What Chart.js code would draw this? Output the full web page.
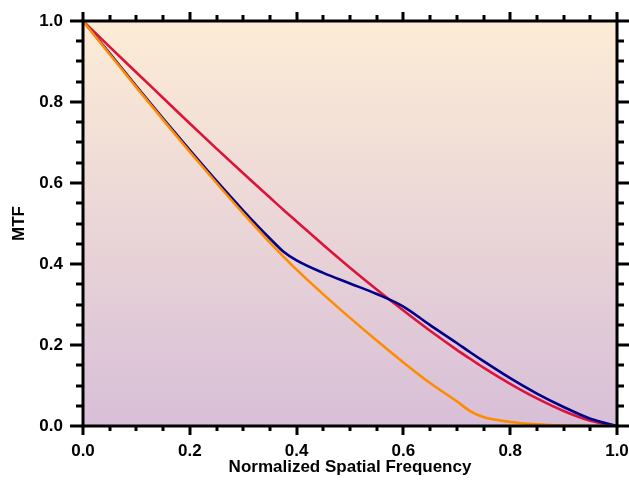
<!DOCTYPE html>
<html>
<head>
<meta charset="utf-8">
<script src="https://cdn.jsdelivr.net/npm/chart.js@4"></script>
<style>
  html, body { margin: 0; padding: 0; background: #ffffff; }
  #wrap { width: 629px; height: 482px; }
</style>
</head>
<body>
<div id="wrap"><canvas id="mtfChart" width="629" height="482"></canvas></div>
<script>
// normalized spatial frequency samples
const freq = [0, 0.05, 0.1, 0.15, 0.2, 0.25, 0.3, 0.35, 0.375, 0.4, 0.45, 0.5, 0.55, 0.6, 0.65, 0.7, 0.725, 0.75, 0.8, 0.85, 0.9, 0.95, 1.0];

// red: diffraction-limited
const mtfRed = [1.0, 0.936, 0.873, 0.810, 0.747, 0.685, 0.624, 0.564, 0.534, 0.505, 0.447, 0.391, 0.337, 0.285, 0.235, 0.188, 0.166, 0.144, 0.104, 0.068, 0.037, 0.013, 0.0];
// blue
const mtfBlue = [1.0, 0.920, 0.839, 0.759, 0.681, 0.605, 0.532, 0.463, 0.431, 0.409, 0.378, 0.352, 0.326, 0.295, 0.249, 0.205, 0.182, 0.160, 0.118, 0.080, 0.047, 0.018, 0.0];
// orange
const mtfOrange = [1.0, 0.918, 0.836, 0.756, 0.677, 0.600, 0.525, 0.453, 0.419, 0.386, 0.325, 0.267, 0.211, 0.157, 0.106, 0.061, 0.037, 0.022, 0.010, 0.004, 0.001, 0.0, 0.0];

const majorTicks = [0, 0.2, 0.4, 0.6, 0.8, 1.0];
const tickStep = 0.05;

const toPoints = (ys) => freq.map((x, i) => ({ x: x, y: ys[i] }));

const bgPlugin = {
    id: "bgGradient",
    beforeDraw(chart) {
        const { ctx, chartArea: a } = chart;
        const g = ctx.createLinearGradient(0, a.top, 0, a.bottom);
        g.addColorStop(0, "#fdecd6");
        g.addColorStop(1, "#d8bfd8");
        ctx.save();
        ctx.fillStyle = g;
        ctx.fillRect(a.left, a.top, a.right - a.left, a.bottom - a.top);
        ctx.restore();
    },
};

const frameplugin = {
    id: "frameTicks",
    afterDraw(chart) {
        const { ctx, chartArea: a } = chart;
        const xs = chart.scales.x;
        const ys = chart.scales.y;
        ctx.save();
        ctx.strokeStyle = "#000";
        ctx.lineWidth = 3;
        ctx.lineCap = "butt";
        ctx.strokeRect(a.left, a.top, a.right - a.left, a.bottom - a.top);
        for (let k = 0; k <= 20; k++) {
            const v = k * tickStep;
            const major = k % 4 === 0;
            const px = Math.round(xs.getPixelForValue(v));
            const py = Math.round(ys.getPixelForValue(v));
            ctx.beginPath();
            // bottom
            ctx.moveTo(px, a.bottom);
            ctx.lineTo(px, a.bottom + (major ? 9 : 5));
            // top
            ctx.moveTo(px, a.top);
            ctx.lineTo(px, a.top - (major ? 9 : 6));
            // left
            ctx.moveTo(a.left, py);
            ctx.lineTo(a.left - (major ? 13 : 7), py);
            // right
            ctx.moveTo(a.right, py);
            ctx.lineTo(a.right + (major ? 12 : 7), py);
            ctx.stroke();
        }
        ctx.restore();
    },
};

const fontBold = { family: "'Liberation Sans', Arial, Helvetica, sans-serif", size: 17, weight: "bold" };

function isMajor(v) {
    return majorTicks.some(m => Math.abs(m - v) < 1e-6);
}

new Chart(document.getElementById("mtfChart"), {
    type: "line",
    data: {
        datasets: [
            {
                label: "Diffraction limit",
                data: toPoints(mtfRed),
                borderColor: "#dc143c",
                borderWidth: 2.6,
                pointRadius: 0,
                cubicInterpolationMode: "monotone",
                order: 2,
            },
            {
                label: "Measured",
                data: toPoints(mtfBlue),
                borderColor: "#00008b",
                borderWidth: 2.6,
                pointRadius: 0,
                cubicInterpolationMode: "monotone",
                order: 1,
            },
            {
                label: "Model",
                data: toPoints(mtfOrange),
                borderColor: "#ff8c00",
                borderWidth: 2.6,
                pointRadius: 0,
                cubicInterpolationMode: "monotone",
                order: 0,
            },
        ],
    },
    options: {
        responsive: false,
        animation: false,
        layout: { padding: { top: 21, right: 12, left: 0, bottom: 0 } },
        plugins: {
            legend: { display: false },
            tooltip: { enabled: false },
        },
        scales: {
            x: {
                type: "linear",
                min: 0,
                max: 1,
                border: { display: false },
                grid: { display: false, drawTicks: false },
                ticks: {
                    stepSize: tickStep,
                    autoSkip: false,
                    maxRotation: 0,
                    padding: 15,
                    color: "#000",
                    font: fontBold,
                    callback: (v) => isMajor(v) ? Number(v).toFixed(1) : "",
                },
                title: {
                    display: true,
                    text: "Normalized Spatial Frequency",
                    color: "#000",
                    font: fontBold,
                    padding: { top: 0, bottom: 4 },
                },
                afterFit: (s) => {
                    s.height = 56;
                    s.paddingLeft = 0;
                    s.paddingRight = 0;
                },
            },
            y: {
                type: "linear",
                min: 0,
                max: 1,
                border: { display: false },
                grid: { display: false, drawTicks: false },
                ticks: {
                    stepSize: tickStep,
                    autoSkip: false,
                    padding: 20,
                    color: "#000",
                    font: fontBold,
                    callback: (v) => isMajor(v) ? Number(v).toFixed(1) : "",
                },
                title: {
                    display: true,
                    text: "MTF",
                    color: "#000",
                    font: fontBold,
                    padding: { top: 9, bottom: 0 },
                },
                afterFit: (s) => {
                    s.width = 83;
                    s.paddingTop = 0;
                    s.paddingBottom = 0;
                },
            },
        },
    },
    plugins: [bgPlugin, frameplugin],
});
</script>
</body>
</html>
